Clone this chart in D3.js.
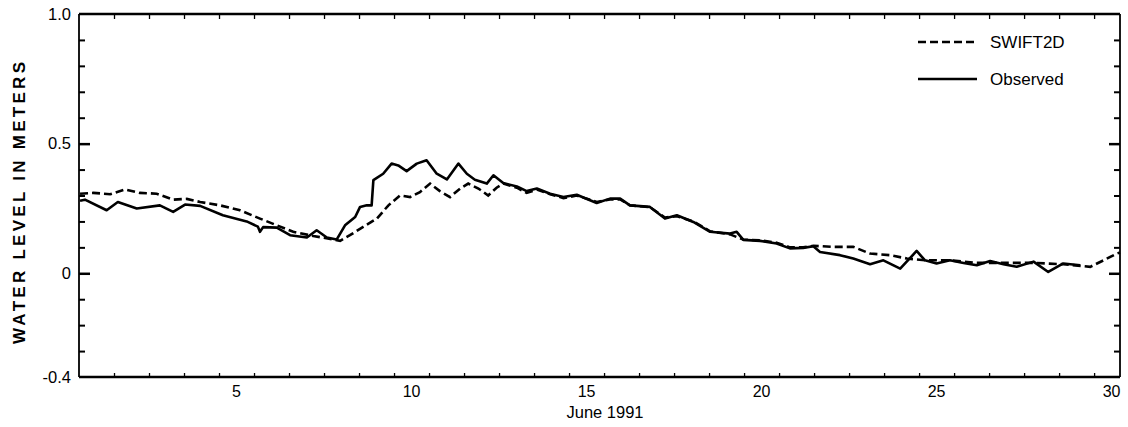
<!DOCTYPE html>
<html><head><meta charset="utf-8">
<script src="https://cdn.jsdelivr.net/npm/d3@7"></script>
<style>body{margin:0;background:#fff;} text{font-family:"Liberation Sans",Arial,sans-serif;fill:#000;}</style>
</head><body>
<svg id="c" width="1128" height="427"></svg>
<script>
// Data: day of June 1991 (fractional), water level in meters
const obsDays = [1.03,1.17,1.79,2.11,2.65,3.31,3.69,4.03,4.46,5.11,5.79,6.11,6.17,6.26,6.65,7.03,7.51,7.79,8.08,8.36,8.6,8.89,9.03,9.22,9.36,9.41,9.69,9.93,10.12,10.36,10.65,10.93,11.22,11.51,11.84,12.08,12.31,12.65,12.84,13.12,13.51,13.79,14.08,14.46,14.84,15.22,15.79,16.17,16.46,16.74,17.31,17.74,18.08,18.55,19.03,19.6,19.79,19.98,20.46,20.93,21.31,21.69,21.98,22.17,22.74,23.12,23.6,23.98,24.46,24.93,25.17,25.5,25.88,26.27,26.65,27.03,27.41,27.79,28.27,28.69,29.12,29.6];
const obsVals = [0.28,0.284,0.243,0.275,0.25,0.262,0.237,0.265,0.26,0.224,0.20,0.18,0.16,0.178,0.176,0.147,0.138,0.166,0.138,0.13,0.185,0.217,0.256,0.262,0.262,0.359,0.384,0.423,0.416,0.394,0.423,0.436,0.384,0.362,0.423,0.384,0.361,0.346,0.378,0.348,0.335,0.317,0.327,0.307,0.294,0.303,0.271,0.288,0.288,0.262,0.256,0.211,0.224,0.198,0.16,0.153,0.16,0.129,0.125,0.115,0.096,0.098,0.104,0.082,0.07,0.057,0.035,0.05,0.018,0.086,0.05,0.038,0.05,0.04,0.031,0.047,0.035,0.025,0.045,0.005,0.038,0.031];
const simDays = [1.03,1.41,1.89,2.31,2.74,3.22,3.69,4.08,4.46,5.03,5.6,6.17,6.65,7.12,7.69,8.27,8.46,8.74,9.12,9.51,9.84,10.17,10.46,10.74,11.03,11.31,11.6,11.89,12.12,12.41,12.69,12.93,13.12,13.51,13.79,14.08,14.46,14.84,15.22,15.79,16.17,16.46,16.74,17.31,17.74,18.08,18.55,19.03,19.6,19.98,20.46,20.93,21.31,21.69,21.98,22.55,23.12,23.6,24.17,24.65,25.17,25.88,26.65,27.41,28.27,29.12,29.89,30.27,30.65,30.74];
const simVals = [0.307,0.31,0.305,0.323,0.31,0.307,0.284,0.287,0.275,0.262,0.243,0.211,0.185,0.16,0.144,0.13,0.125,0.147,0.179,0.211,0.262,0.30,0.294,0.313,0.346,0.317,0.294,0.327,0.346,0.327,0.30,0.33,0.346,0.33,0.31,0.323,0.305,0.29,0.30,0.275,0.285,0.285,0.262,0.255,0.215,0.22,0.2,0.162,0.15,0.13,0.127,0.118,0.1,0.1,0.106,0.102,0.102,0.076,0.07,0.057,0.05,0.05,0.04,0.04,0.04,0.035,0.025,0.05,0.076,0.08];
const xTickLabels = [5,10,15,20,25,30];
const yTickLabels = ["1.0","0.5","0","-0.4"];
const seriesNames = ["SWIFT2D","Observed"];

const svg = d3.select("#c");
const L=79, R=1120, T=14, B=377;
const x = d3.scaleLinear().domain([1,30.74]).range([L,R]);
const y = d3.scaleLinear().domain([-0.4,1.0]).range([B,T]);

// Frame
svg.append("line").attr("x1",L).attr("x2",R).attr("y1",T).attr("y2",T).attr("stroke","#000").attr("stroke-width",2.5);
svg.append("line").attr("x1",L).attr("x2",R).attr("y1",B).attr("y2",B).attr("stroke","#000").attr("stroke-width",2.5);
svg.append("line").attr("x1",L).attr("x2",L).attr("y1",T).attr("y2",B).attr("stroke","#000").attr("stroke-width",1.8);
svg.append("line").attr("x1",R).attr("x2",R).attr("y1",T).attr("y2",B).attr("stroke","#000").attr("stroke-width",1.8);

// X ticks (day boundaries)
const dayTicks = d3.range(2,31);
svg.append("g").attr("transform",`translate(0,${B})`).call(d3.axisBottom(x).tickValues(dayTicks).tickSize(-4).tickFormat(""))
  .call(g=>{g.select(".domain").remove(); g.selectAll("line").attr("stroke-width",1.3);});
svg.append("g").attr("transform",`translate(0,${T})`).call(d3.axisTop(x).tickValues(dayTicks).tickSize(-5).tickFormat(""))
  .call(g=>{g.select(".domain").remove(); g.selectAll("line").attr("stroke-width",1.3);});
// X labels centered on days
svg.append("g").selectAll("text").data(xTickLabels).join("text")
  .attr("x",d=>x(d+0.5)).attr("y",397).attr("text-anchor","middle").attr("font-size",16).text(d=>d);
svg.append("text").attr("x",605).attr("y",418).attr("text-anchor","middle").attr("font-size",16.5).text("June 1991");

// Y ticks
const minorY = d3.range(-3,10).map(i=>i/10).filter(v=>v!==0 && v!==0.5);
const majorY = [0,0.5];
[[L,1],[R,-1]].forEach(([x0,s])=>{
  svg.append("g").attr("transform",`translate(${x0},0)`).call((s>0?d3.axisLeft(y):d3.axisRight(y)).tickValues(minorY).tickSize(-6).tickFormat(""))
    .call(g=>{g.select(".domain").remove(); g.selectAll("line").attr("stroke-width",2);});
  svg.append("g").attr("transform",`translate(${x0},0)`).call((s>0?d3.axisLeft(y):d3.axisRight(y)).tickValues(majorY).tickSize(-11).tickFormat(""))
    .call(g=>{g.select(".domain").remove(); g.selectAll("line").attr("stroke-width",2.5);});
});
svg.append("g").selectAll("text").data(yTickLabels).join("text")
  .attr("x",71).attr("y",d=>y(+d)+5.5).attr("text-anchor","end").attr("font-size",16.5)
  .text(d=>d);
svg.append("text").attr("transform",`translate(25,203) rotate(-90)`).attr("text-anchor","middle")
  .attr("font-size",17).attr("font-weight","bold").attr("textLength",282).attr("lengthAdjust","spacing").text("WATER LEVEL IN METERS");

// Lines
const line = d3.line().x(d=>x(d[0])).y(d=>y(d[1])).curve(d3.curveLinear);
const obs = obsDays.map((d,i)=>[d,obsVals[i]]);
const sim = simDays.map((d,i)=>[d,simVals[i]]);
svg.append("path").datum(sim).attr("d",line).attr("fill","none").attr("stroke","#000").attr("stroke-width",2.6).attr("stroke-dasharray","8,4");
svg.append("path").datum(obs).attr("d",line).attr("fill","none").attr("stroke","#000").attr("stroke-width",2.6).attr("stroke-linejoin","round");

// Legend
const leg = svg.append("g");
leg.append("line").attr("x1",918).attr("x2",977).attr("y1",42).attr("y2",42).attr("stroke","#000").attr("stroke-width",2.6).attr("stroke-dasharray","8,4");
leg.append("line").attr("x1",918).attr("x2",977).attr("y1",79).attr("y2",79).attr("stroke","#000").attr("stroke-width",2.6);
leg.append("text").attr("x",990).attr("y",48).attr("font-size",17).text(seriesNames[0]);
leg.append("text").attr("x",990).attr("y",85).attr("font-size",17).text(seriesNames[1]);
</script>
</body></html>
